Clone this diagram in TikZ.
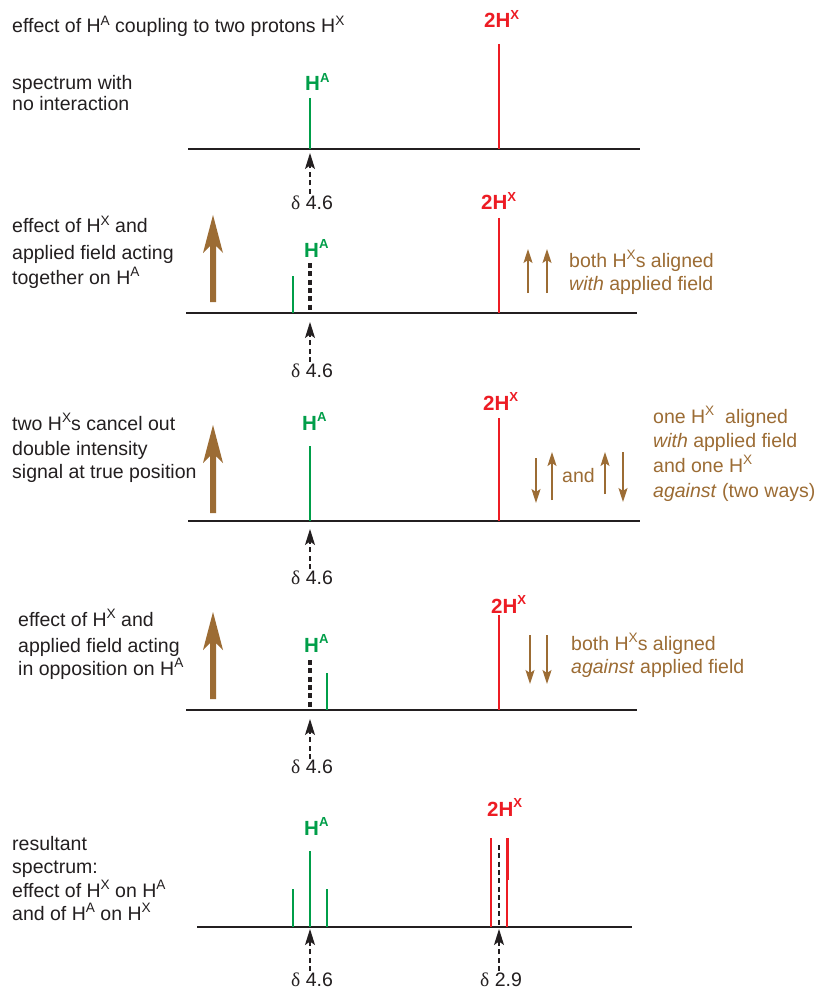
\documentclass[tikz,border=0pt]{standalone}
\usepackage{fontspec}
\setmainfont{Liberation Sans}
\newfontfamily\grk{Liberation Serif}
\usepackage{graphicx}
\usetikzlibrary{arrows.meta}
\definecolor{hgreen}{RGB}{0,158,73}
\definecolor{hred}{RGB}{237,28,36}
\definecolor{hbrown}{RGB}{156,108,52}
\definecolor{ink}{RGB}{35,31,32}
\newcommand\su[1]{\raisebox{0.36em}{\scalebox{0.7}{#1}}}
\newcommand\bsu[1]{\raisebox{0.42em}{\scalebox{0.64}{#1}}}
\newcommand\bigarr[3]{\fill[hbrown] ({#1-3},#3) -- ({#1-3},{#2+31}) -- ({#1-10},{#2+38}) -- (#1,#2) -- ({#1+10},{#2+38}) -- ({#1+3},{#2+31}) -- ({#1+3},#3) -- cycle;}
\begin{document}
\begin{tikzpicture}[x=1pt,y=-1pt,
  txt/.style={anchor=base west, inner sep=0pt, font=\fontsize{19.5}{24}\selectfont, text=ink},
  btxt/.style={txt, text=hbrown},
  lbl/.style={anchor=base west, inner sep=0pt, font=\fontsize{20.5}{24}\selectfont\bfseries},
  glbl/.style={lbl, text=hgreen},
  rlbl/.style={lbl, text=hred},
  dlbl/.style={anchor=base, inner sep=0pt, font=\fontsize{19.5}{24}\selectfont, text=ink},
  axis/.style={line width=2.2pt, ink},
  gline/.style={line width=2.5pt, hgreen},
  gthick/.style={line width=2.9pt, hgreen},
  rline/.style={line width=2.3pt, hred},
  rthick/.style={line width=3.0pt, hred},
  tdash/.style={line width=3.8pt, ink, dash pattern=on 5pt off 3.3pt},
  mdash/.style={line width=2.3pt, ink, dash pattern=on 5pt off 3.3pt},
  darr/.style={line width=1.2pt, ink, dash pattern=on 5pt off 3.5pt, -{Stealth[length=16pt,width=10pt,inset=3.5pt]}},
  sarr/.style={line width=1.6pt, hbrown, -{Stealth[length=14pt,width=9pt,inset=3pt]}}
]
\useasboundingbox[fill=white] (0,0) rectangle (819,992);

% ---------- panel 1 ----------
\node[txt] (title) at (12,33) {effect of H\su{A} coupling to two protons H\su{X}};
\node[txt] (l1a) at (12,90) {spectrum with};
\node[txt] (l1b) at (12,111) {no interaction};
\draw[axis] (188,149) -- (640,149);
\draw[gline] (310,98) -- (310,149);
\draw[rline] (499,44) -- (499,149);
\node[glbl] (ha1) at (305,91) {H\bsu{A}};
\node[rlbl] (hx1) at (484,28) {2H\bsu{X}};
\node[dlbl] (d1) at (312,210) {{\grk δ} 4.6};
\coordinate (t1) at (310,153);
\coordinate (s1) at (310,194);
\draw[darr] (s1) -- (t1);

% ---------- panel 2 ----------
\node[txt] (l2a) at (12,233) {effect of H\su{X} and};
\node[txt] (l2b) at (12,259) {applied field acting};
\node[txt] (l2c) at (12,284) {together on H\su{A}};
\bigarr{213}{215}{302}
\draw[axis] (186,313) -- (637,313);
\draw[gline] (293,276) -- (293,313);
\draw[tdash] (310,263) -- (310,313);
\draw[rline] (499,218) -- (499,313);
\node[glbl] (ha2) at (304,257) {H\bsu{A}};
\node[rlbl] (hx2) at (481,210) {2H\bsu{X}};
\coordinate (u2a) at (528,293); \coordinate (v2a) at (528,249);
\coordinate (u2b) at (547,293); \coordinate (v2b) at (547,249);
\draw[sarr] (u2a) -- (v2a);
\draw[sarr] (u2b) -- (v2b);
\node[btxt] (b2a) at (569,267) {both H\su{X}s aligned};
\node[btxt] (b2b) at (569,290) {\textit{with} applied field};
\node[dlbl] (d2) at (312,377) {{\grk δ} 4.6};
\coordinate (t2) at (310,322);
\coordinate (s2) at (310,362);
\draw[darr] (s2) -- (t2);

% ---------- panel 3 ----------
\node[txt] (l3a) at (12,430) {two H\su{X}s cancel out};
\node[txt] (l3b) at (12,455) {double intensity};
\node[txt] (l3c) at (12,478) {signal at true position};
\bigarr{213}{425}{513}
\draw[axis] (188,521) -- (640,521);
\draw[gline] (310,483) -- (310,521);
\draw[gthick] (310,446) -- (310,483);
\draw[rline] (499,418) -- (499,521);
\node[glbl] (ha3) at (302,430) {H\bsu{A}};
\node[rlbl] (hx3) at (483,410) {2H\bsu{X}};
\coordinate (u3a) at (536,458); \coordinate (v3a) at (536,503);
\coordinate (u3b) at (552,500); \coordinate (v3b) at (552,452);
\coordinate (u3c) at (605,494); \coordinate (v3c) at (605,452);
\coordinate (u3d) at (623,452); \coordinate (v3d) at (623,502);
\draw[sarr] (u3a) -- (v3a);
\draw[sarr] (u3b) -- (v3b);
\draw[sarr] (u3c) -- (v3c);
\draw[sarr] (u3d) -- (v3d);
\node[btxt] (and3) at (562,482) {and};
\node[btxt] (b3a) at (653,423) {one H\su{X}\ \ aligned};
\node[btxt] (b3b) at (653,447) {\textit{with} applied field};
\node[btxt] (b3c) at (653,472) {and one H\su{X}};
\node[btxt] (b3d) at (653,497) {\textit{against} (two ways)};
\node[dlbl] (d3) at (312,584) {{\grk δ} 4.6};
\coordinate (t3) at (310,529);
\coordinate (s3) at (310,569);
\draw[darr] (s3) -- (t3);

% ---------- panel 4 ----------
\node[txt] (l4a) at (18,626) {effect of H\su{X} and};
\node[txt] (l4b) at (18,652) {applied field acting};
\node[txt] (l4c) at (18,675) {in opposition on H\su{A}};
\bigarr{213}{612}{699}
\draw[axis] (186,710) -- (637,710);
\draw[tdash] (310,660) -- (310,710);
\draw[gline] (327,673) -- (327,710);
\draw[rline] (499,615) -- (499,710);
\node[glbl] (ha4) at (304,652) {H\bsu{A}};
\node[rlbl] (hx4) at (491,613) {2H\bsu{X}};
\coordinate (u4a) at (530,635); \coordinate (v4a) at (530,684);
\coordinate (u4b) at (547,635); \coordinate (v4b) at (547,684);
\draw[sarr] (u4a) -- (v4a);
\draw[sarr] (u4b) -- (v4b);
\node[btxt] (b4a) at (571,650) {both H\su{X}s aligned};
\node[btxt] (b4b) at (571,673) {\textit{against} applied field};
\node[dlbl] (d4) at (312,773) {{\grk δ} 4.6};
\coordinate (t4) at (310,719);
\coordinate (s4) at (310,759);
\draw[darr] (s4) -- (t4);

% ---------- panel 5 ----------
\node[txt] (l5a) at (12,850) {resultant};
\node[txt] (l5b) at (12,873) {spectrum:};
\node[txt] (l5c) at (12,897) {effect of H\su{X} on H\su{A}};
\node[txt] (l5d) at (12,920) {and of H\su{A} on H\su{X}};
\draw[axis] (197,927) -- (632,927);
\draw[gline] (293,889) -- (293,927);
\draw[gline] (310,889) -- (310,927);
\draw[gthick] (310,851) -- (310,889);
\draw[gline] (327,889) -- (327,927);
\draw[rline] (491,838) -- (491,927);
\draw[rline] (507,880) -- (507,927);
\draw[rthick] (507,838) -- (507,880);
\draw[mdash] (499,845) -- (499,927);
\node[glbl] (ha5) at (304,835) {H\bsu{A}};
\node[rlbl] (hx5) at (487,816) {2H\bsu{X}};
\node[dlbl] (d5a) at (312,986) {{\grk δ} 4.6};
\node[dlbl] (d5b) at (501,986) {{\grk δ} 2.9};
\coordinate (t5a) at (310,929);
\coordinate (s5a) at (310,971);
\coordinate (t5b) at (499,929);
\coordinate (s5b) at (499,971);
\draw[darr] (s5a) -- (t5a);
\draw[darr] (s5b) -- (t5b);
\end{tikzpicture}
\end{document}
